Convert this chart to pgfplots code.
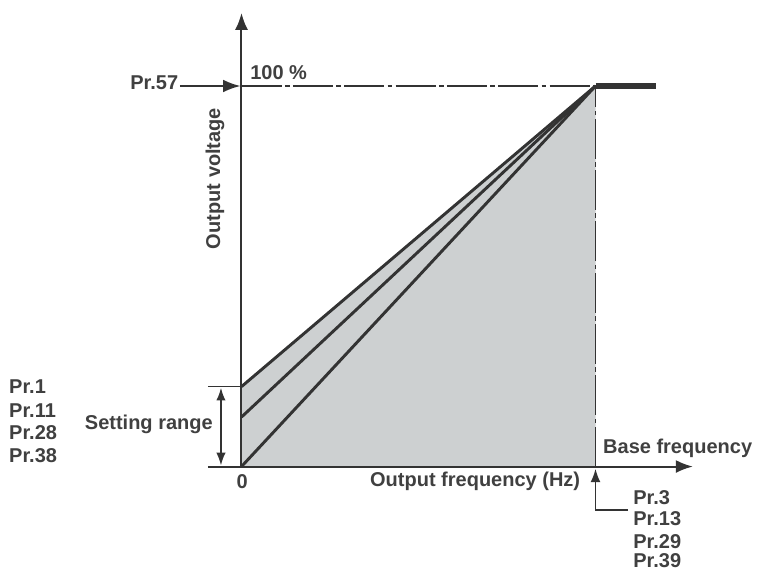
\documentclass[border=0pt]{standalone}
\usepackage{pgfplots}
\pgfplotsset{compat=1.18}
\usepackage{fontspec}
\setmainfont{Liberation Sans}
\usetikzlibrary{arrows.meta}
\definecolor{ink}{HTML}{333333}
\definecolor{txt}{HTML}{404040}
\definecolor{shade}{HTML}{CDD0D1}
\tikzset{lbl/.style={font=\fontsize{15}{18}\selectfont\bfseries, text=txt, inner sep=0pt}}
\begin{document}
\begin{tikzpicture}
\begin{axis}[
  hide axis,
  clip=false,
  x=2.655pt, y=2.854pt,
  xmin=0, xmax=127.5, ymin=0, ymax=119.2,
]
% bounding box matching 757x572 reference
\path (axis cs:-68.22,-27.73) rectangle (axis cs:145.62,122.6);
% shaded area
\addplot[fill=shade, draw=none] coordinates {(0,0) (0,21) (100,100) (100,0)} -- cycle;
% dash-dot reference lines
\addplot[ink, line width=1.3pt, dash pattern=on 30pt off 2.5pt on 3.5pt off 2.5pt] coordinates {(0,100) (100,100)};
\addplot[ink, line width=1.3pt, dash pattern=on 30pt off 2.5pt on 3.5pt off 2.5pt] coordinates {(100,0) (100,100)};
% V/f lines
\addplot[ink, line width=2.2pt] coordinates {(0,21) (100,100)};
\addplot[ink, line width=2.2pt] coordinates {(0,13) (100,100)};
\addplot[ink, line width=2.2pt] coordinates {(0,0) (100,100)};
\addplot[ink, line width=3.8pt] coordinates {(100,100) (117,100)};
% axes
\draw[ink, line width=1.5pt, -{Latex[length=12.75pt, width=9.75pt]}] (axis cs:-9.5,0) -- (axis cs:127.5,0);
\draw[ink, line width=1.5pt, -{Latex[length=12.75pt, width=9.75pt]}] (axis cs:0,0) -- (axis cs:0,119.2);
% setting range marks
\draw[ink, line width=1.1pt] (axis cs:-9.5,21) -- (axis cs:0,21);
\draw[ink, line width=1.2pt, {Latex[length=9.5pt, width=7pt]}-{Latex[length=9.5pt, width=7pt]}] (axis cs:-5.8,0.3) -- (axis cs:-5.8,20.7);
% Pr.57 arrow
\draw[ink, line width=1.3pt, -{Latex[length=13pt, width=9.5pt]}] (axis cs:-17.4,100) -- (axis cs:-0.3,100);
% Pr.3 arrow
\draw[ink, line width=1.2pt] (axis cs:109.2,-11.4) -- (axis cs:100,-11.4) -- (axis cs:100,-5);
\draw[ink, line width=1.2pt, -{Latex[length=10pt, width=7.5pt]}] (axis cs:100,-6) -- (axis cs:100,-0.6);
% texts
\node[lbl, anchor=east] at (axis cs:-17.8,100.8) {Pr.57};
\node[lbl, anchor=west] at (axis cs:2.4,103.6) {100 \%};
\node[lbl, rotate=90] at (axis cs:-7.5,75.7) {Output voltage};
\node[lbl, anchor=west] at (axis cs:-65.7,20.9) {Pr.1};
\node[lbl, anchor=west] at (axis cs:-65.7,14.7) {Pr.11};
\node[lbl, anchor=west] at (axis cs:-65.7,8.9) {Pr.28};
\node[lbl, anchor=west] at (axis cs:-65.7,2.8) {Pr.38};
\node[lbl, anchor=east] at (axis cs:-8.05,11.2) {Setting range};
\node[lbl] at (axis cs:0.2,-3.9) {0};
\node[lbl] at (axis cs:66,-3.9) {Output frequency (Hz)};
\node[lbl, anchor=west] at (axis cs:102.1,4.9) {Base frequency};
\node[lbl, anchor=west] at (axis cs:110.6,-8.3) {Pr.3};
\node[lbl, anchor=west] at (axis cs:110.6,-13.8) {Pr.13};
\node[lbl, anchor=west] at (axis cs:110.6,-19.7) {Pr.29};
\node[lbl, anchor=west] at (axis cs:110.6,-24.8) {Pr.39};
\end{axis}
\end{tikzpicture}
\end{document}
